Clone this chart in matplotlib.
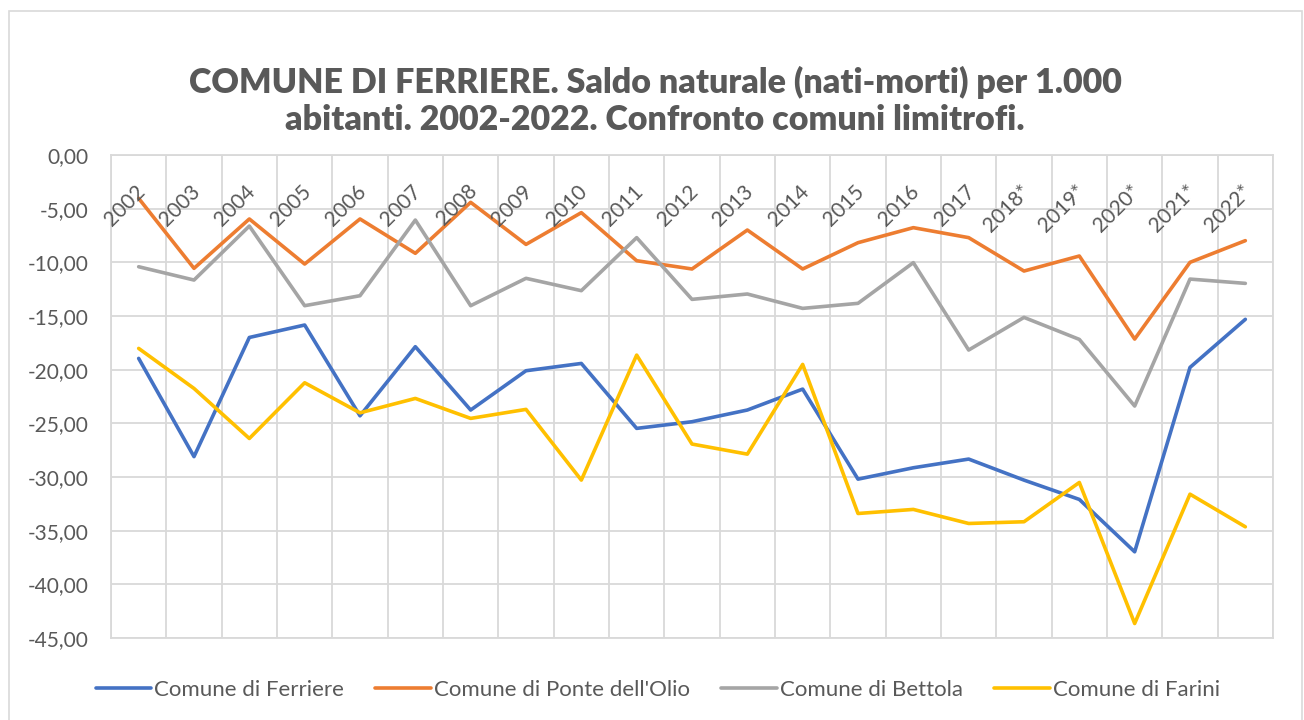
import matplotlib
matplotlib.use('Agg')
import matplotlib.pyplot as plt
import matplotlib.transforms as mtransforms
from matplotlib.patches import Rectangle

anni = ['2002', '2003', '2004', '2005', '2006', '2007', '2008', '2009', '2010',
        '2011', '2012', '2013', '2014', '2015', '2016', '2017', '2018*', '2019*',
        '2020*', '2021*', '2022*']

ferriere = [-18.95, -28.10, -17.00, -15.84, -24.30, -17.86, -23.76, -20.10, -19.42,
            -25.47, -24.85, -23.76, -21.81, -30.20, -29.14, -28.33, -30.29, -32.09,
            -36.97, -19.79, -15.31]
ponte_olio = [-4.04, -10.56, -5.96, -10.16, -5.96, -9.16, -4.41, -8.33, -5.37,
              -9.85, -10.62, -6.99, -10.62, -8.17, -6.77, -7.70, -10.81, -9.41,
              -17.15, -10.00, -7.98]
bettola = [-10.41, -11.65, -6.62, -14.04, -13.11, -6.06, -14.04, -11.49, -12.64,
           -7.70, -13.45, -12.95, -14.29, -13.82, -10.03, -18.17, -15.13, -17.18,
           -23.39, -11.56, -11.96]
farini = [-18.02, -21.75, -26.41, -21.22, -24.02, -22.68, -24.54, -23.70, -30.29,
          -18.64, -26.93, -27.87, -19.51, -33.40, -33.02, -34.33, -34.17, -30.51,
          -43.65, -31.60, -34.64]

serie = [
    ('Comune di Ferriere', ferriere, '#4472C4'),
    ("Comune di Ponte dell'Olio", ponte_olio, '#ED7D31'),
    ('Comune di Bettola', bettola, '#A5A5A5'),
    ('Comune di Farini', farini, '#FFC000'),
]

plt.rcParams['font.family'] = ['Lato', 'DejaVu Sans']
testo = '#595959'
griglia = '#D9D9D9'

W, H = 1304, 720
fig = plt.figure(figsize=(W / 100, H / 100), dpi=100)
fig.patch.set_facecolor('white')

# outer chart border (Excel style)
fig.patches.append(Rectangle((9 / W, -0.05), (1302 - 9) / W, 1.05 - 11 / H,
                             transform=fig.transFigure, fill=False,
                             edgecolor=griglia, lw=1.2))

left, right, top, bottom = 111, 1273, 155, 638
ax = fig.add_axes([left / W, (H - bottom) / H, (right - left) / W, (bottom - top) / H])

x = list(range(len(anni)))
for nome, valori, colore in serie:
    ax.plot(x, valori, color=colore, lw=2.6, label=nome, solid_joinstyle='round',
            solid_capstyle='round', zorder=3)

ax.set_xlim(-0.5, len(anni) - 0.5)
ax.set_ylim(-45, 0)
ax.set_yticks(range(-45, 1, 5))
ax.set_yticklabels([f'{v:.2f}'.replace('.', ',') for v in range(-45, 1, 5)])
ax.tick_params(axis='y', length=0, pad=16, labelsize=15, labelcolor=testo)
ax.set_xticks([i - 0.5 for i in range(len(anni) + 1)])
ax.set_xticklabels([])
ax.tick_params(axis='x', length=0)
ax.grid(True, color=griglia, lw=1.3, zorder=0)
for s in ax.spines.values():
    s.set_color(griglia)
    s.set_linewidth(1.3)

# rotated category labels just under the zero line
off = mtransforms.offset_copy(ax.transData, fig=fig, x=3, y=-33, units='dots')
for i, a in enumerate(anni):
    ax.text(i, 0, a, transform=off, rotation=45, rotation_mode='anchor',
            ha='right', va='center', fontsize=15, color=testo)

fig.text(655 / W, 1 - 82 / H, 'COMUNE DI FERRIERE. Saldo naturale (nati-morti) per 1.000',
         ha='center', va='center', fontsize=24.5, fontweight='heavy', color=testo)
fig.text(655 / W, 1 - 120 / H, 'abitanti. 2002-2022. Confronto comuni limitrofi.',
         ha='center', va='center', fontsize=24.5, fontweight='heavy', color=testo)

leg = fig.legend(loc='center', bbox_to_anchor=(658 / W, 1 - 690 / H), ncol=4,
                 frameon=False, fontsize=16, handlelength=2.5, handletextpad=0.15,
                 columnspacing=1.4)
for t in leg.get_texts():
    t.set_color(testo)

fig.savefig('out.png', dpi=100)
